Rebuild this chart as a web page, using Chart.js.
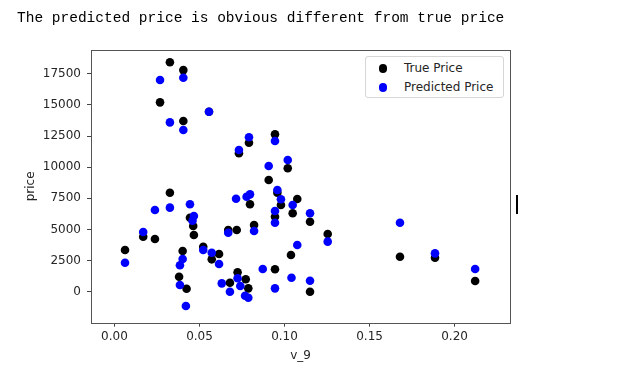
<!DOCTYPE html>
<html>
<head>
<meta charset="utf-8">
<script src="https://cdn.jsdelivr.net/npm/chart.js@4.4.0/dist/chart.umd.min.js"></script>
<style>
    body { margin: 0; background: #fff; }
    #wrap { position: relative; width: 630px; height: 369px; overflow: hidden; }
    #title {
        position: absolute; left: 17px; top: 11px; margin: 0;
        font: 14.5px/14.5px "Liberation Mono", "DejaVu Sans Mono", monospace;
        color: #000; white-space: pre;
    }
    #legend {
        position: absolute; left: 365px; top: 56px; width: 137px; height: 40px;
        border: 1px solid #d6d6d6; border-radius: 3px; background: #fff;
        font: 12px "DejaVu Sans", sans-serif; color: #262626;
    }
    .item { position: absolute; left: 0; height: 14px; line-height: 14px; }
    .dot { position: absolute; left: 12.5px; top: 3px; width: 8.5px; height: 8.5px; border-radius: 50%; }
    .lbl { position: absolute; left: 38px; top: 0; white-space: nowrap; }
    #cursor { position: absolute; left: 516px; top: 195px; width: 1.5px; height: 19px; background: #000; }
</style>
</head>
<body>
<div id="wrap">
    <canvas id="scatterChart" width="630" height="369"></canvas>
    <p id="title">The predicted price is obvious different from true price</p>
    <div id="legend">
        <div class="item" style="top:4px"><span class="dot" style="background:#000"></span><span class="lbl">True Price</span></div>
        <div class="item" style="top:23px"><span class="dot" style="background:#0000ff"></span><span class="lbl">Predicted Price</span></div>
    </div>
    <div id="cursor"></div>
</div>
<script>
// v_9 vs price
const trueX = [0.0062, 0.0169, 0.0238, 0.0268, 0.0326, 0.0326, 0.0380, 0.0401, 0.0405, 0.0405,
    0.0424, 0.0444, 0.0463, 0.0467, 0.0522, 0.0556, 0.0572, 0.0615, 0.0669, 0.0679,
    0.0719, 0.0724, 0.0732, 0.0772, 0.0787, 0.0791, 0.0797, 0.0821, 0.0907, 0.0944,
    0.0944, 0.0944, 0.0958, 0.0979, 0.1019, 0.1038, 0.1048, 0.1075, 0.1150, 0.1150,
    0.1254, 0.1679, 0.1885, 0.2121];
const truePrice = [3350, 4420, 4230, 15210, 18425, 7950, 1200, 3270, 17800, 13710,
    240, 5940, 5280, 4550, 3610, 14460, 2600, 3030, 4960, 720,
    4960, 1560, 11120, 1000, 270, 11970, 7020, 5360, 8970, 12640,
    6020, 1800, 7950, 6960, 9910, 2950, 6300, 7450, 5620, 0,
    4630, 2810, 2730, 860];

const predX = [0.0062, 0.0169, 0.0238, 0.0268, 0.0326, 0.0326, 0.0385, 0.0401, 0.0385, 0.0405,
    0.0405, 0.0420, 0.0444, 0.0467, 0.0459, 0.0522, 0.0556, 0.0572, 0.0615, 0.0631,
    0.0669, 0.0679, 0.0715, 0.0724, 0.0732, 0.0740, 0.0768, 0.0787, 0.0777, 0.0791,
    0.0797, 0.0821, 0.0872, 0.0907, 0.0944, 0.0944, 0.0944, 0.0958, 0.0979, 0.0944,
    0.1019, 0.1041, 0.1048, 0.1075, 0.1150, 0.1150, 0.1254, 0.1679, 0.1885, 0.2121];
const predictedPrice = [2330, 4800, 6560, 17000, 13600, 6750, 2120, 2630, 540, 17190,
    12990, -1150, 7020, 6080, 5700, 3350, 14460, 3130, 2220, 670,
    4740, 0, 7470, 1080, 11380, 460, -320, -480, 7630, 12400,
    7820, 4880, 1820, 10100, 12100, 5540, 270, 8170, 7420, 6480,
    10580, 1120, 6960, 3750, 6300, 880, 4020, 5540, 3080, 1820];

// axis limits and ticks
const xLimits = [-0.0138, 0.2326];
const xTicks = [0.00, 0.05, 0.10, 0.15, 0.20];
const yLimits = [-2490, 19414];
const yTicks = [0, 2500, 5000, 7500, 10000, 12500, 15000, 17500];

function toPoints(xs, ys) {
    return xs.map((x, i) => ({ x: x, y: ys[i] }));
}

// draws the four spines like matplotlib
const framePlugin = {
    id: 'frame',
    afterDatasetsDraw(chart) {
        const a = chart.chartArea;
        const ctx = chart.ctx;
        ctx.save();
        ctx.strokeStyle = '#555';
        ctx.lineWidth = 1;
        ctx.strokeRect(Math.round(a.left) + 0.5, Math.round(a.top) + 0.5,
            Math.round(a.right - a.left), Math.round(a.bottom - a.top));
        ctx.restore();
    }
};

const tickFont = { family: 'DejaVu Sans', size: 12 };

new Chart(document.getElementById('scatterChart'), {
    type: 'scatter',
    data: {
        datasets: [{
            label: 'True Price',
            data: toPoints(trueX, truePrice),
            backgroundColor: '#000000',
            pointRadius: 4.3,
            pointBorderWidth: 0,
            order: 2
        }, {
            label: 'Predicted Price',
            data: toPoints(predX, predictedPrice),
            backgroundColor: '#0000ff',
            pointRadius: 4.3,
            pointBorderWidth: 0,
            order: 1
        }]
    },
    options: {
        responsive: false,
        animation: false,
        layout: { padding: { left: 0, top: 50, right: 120, bottom: 0 } },
        plugins: {
            legend: { display: false },
            tooltip: { enabled: false }
        },
        scales: {
            x: {
                type: 'linear',
                min: xLimits[0],
                max: xLimits[1],
                afterFit: s => { s.height = 46.3; },
                afterBuildTicks: s => { s.ticks = xTicks.map(v => ({ value: v })); },
                border: { display: false },
                grid: { drawOnChartArea: false, drawTicks: true, tickLength: 4, color: '#444' },
                ticks: {
                    font: tickFont, color: '#262626', padding: 3,
                    callback: v => Number(v).toFixed(2)
                },
                title: {
                    display: true, text: 'v_9', font: tickFont, color: '#262626',
                    padding: { top: 0, bottom: 6 }
                }
            },
            y: {
                type: 'linear',
                min: yLimits[0],
                max: yLimits[1],
                afterFit: s => { s.width = 91; },
                afterBuildTicks: s => { s.ticks = yTicks.map(v => ({ value: v })); },
                border: { display: false },
                grid: { drawOnChartArea: false, drawTicks: true, tickLength: 4, color: '#444' },
                ticks: {
                    font: tickFont, color: '#262626', padding: 6,
                    callback: v => String(v)
                },
                title: {
                    display: true, text: 'price', font: tickFont, color: '#262626',
                    padding: { top: 24, bottom: 0 }
                }
            }
        }
    },
    plugins: [framePlugin]
});
</script>
</body>
</html>
